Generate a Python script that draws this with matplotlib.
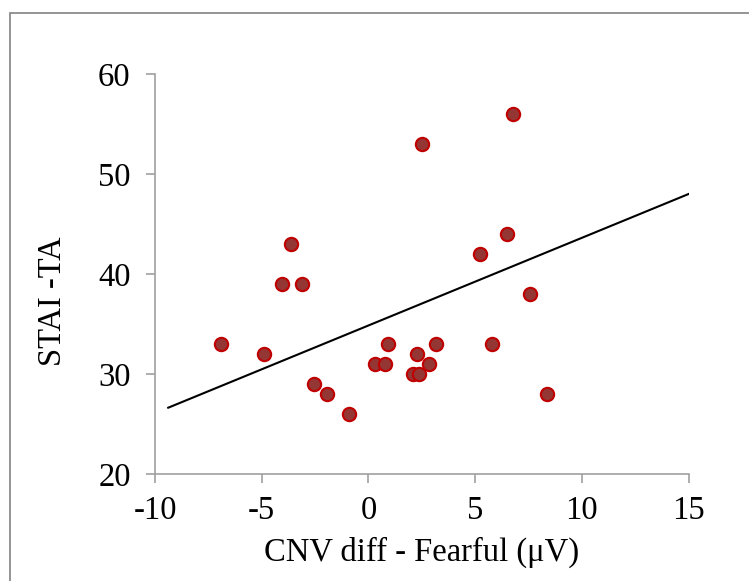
import matplotlib
matplotlib.use("Agg")
import matplotlib.pyplot as plt
from matplotlib.patches import Rectangle

plt.rcParams['font.family'] = ['Liberation Serif', 'DejaVu Serif']

# Data
cnv_diff = [-6.91, -4.89, -4.05, -3.62, -3.11, -2.53, -1.94, -0.91,
            0.32, 0.78, 0.93, 2.10, 2.37, 2.28, 2.51, 2.86, 3.17,
            5.24, 5.79, 6.48, 6.76, 7.57, 8.37]
stai_ta = [33, 32, 39, 43, 39, 29, 28, 26,
           31, 31, 33, 30, 30, 32, 53, 31, 33,
           42, 33, 44, 56, 38, 28]

# Trend line endpoints
trend_x = [-9.38, 15.0]
trend_y = [26.63, 48.0]

x_ticks = [-10, -5, 0, 5, 10, 15]
y_ticks = [20, 30, 40, 50, 60]

fig = plt.figure(figsize=(7.49, 5.81), dpi=100)
ax = fig.add_axes([155/749, 1 - 474/581, (688.6 - 155)/749, 400/581])

# outer border of the chart area
fig.patches.append(Rectangle((10/749, -0.1), 1.2, (581 - 13)/581 + 0.1,
                             transform=fig.transFigure, fill=False,
                             edgecolor='#8c8c8c', linewidth=1.3, zorder=0))

ax.plot(trend_x, trend_y, color='black', linewidth=1.5, zorder=2)
ax.scatter(cnv_diff, stai_ta, s=92, facecolor='#943634', edgecolor='#c00000',
           linewidth=1.5, zorder=3)

ax.set_xlim(-10, 15)
ax.set_ylim(20, 60)
ax.set_xticks(x_ticks)
ax.set_yticks(y_ticks)
ax.set_xticklabels([str(v) for v in x_ticks])
ax.set_yticklabels([str(v) for v in y_ticks])

for side in ['top', 'right']:
    ax.spines[side].set_visible(False)
for side in ['left', 'bottom']:
    ax.spines[side].set_color('#a0a0a0')
    ax.spines[side].set_linewidth(1.2)

ax.tick_params(axis='both', direction='out', length=6.5, width=1.2,
               color='#a0a0a0', labelsize=23.5, labelcolor='black')
ax.tick_params(axis='y', pad=11)
ax.tick_params(axis='x', pad=9)

ax.set_xlabel('CNV diff - Fearful (\u03bcV)', fontsize=23.5)
ax.set_ylabel('STAI -TA', fontsize=23.5)
ax.xaxis.set_label_coords(0.5, -0.195)
ax.yaxis.set_label_coords(-0.192, 0.4325)
ax.xaxis.label.set_va('center')
ax.yaxis.label.set_va('center')

fig.savefig('out.png', dpi=100)
